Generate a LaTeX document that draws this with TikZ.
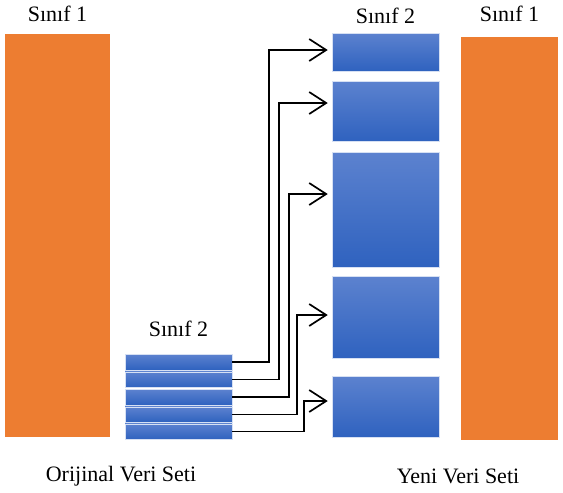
\documentclass[tikz,border=0pt]{standalone}
\usepackage{fontspec}
\setmainfont{Liberation Serif}
\usetikzlibrary{arrows.meta,calc}
\definecolor{orng}{HTML}{ED7D31}
\definecolor{bluetop}{HTML}{5C82CF}
\definecolor{bluebot}{HTML}{2F62BF}
\begin{document}
\begin{tikzpicture}[x=1pt,y=-1pt,
  orangebar/.style={rectangle,fill=orng,draw=none,inner sep=0pt},
  bluebar/.style={rectangle,top color=bluetop,bottom color=bluebot,draw=white!75!bluetop,line width=0.5pt,inner sep=0pt,minimum width=107pt},
  lbl/.style={inner sep=0pt,font=\fontsize{22}{26}\selectfont},
  arr/.style={draw=black,line width=1.7pt,-{Straight Barb[length=17pt,width=22pt,line width=1.7pt]}}]
\useasboundingbox (0,0) rectangle (563,493);
% orange bars
\node[orangebar,minimum width=105pt,minimum height=403pt] (o1) at (57.5,235.5) {};
\node[orangebar,minimum width=97pt,minimum height=403pt] (o2) at (509.5,238.5) {};
% new blue blocks
\node[bluebar,minimum height=38pt] (b1) at (385.5,52) {};
\node[bluebar,minimum height=60pt] (b2) at (385.5,111) {};
\node[bluebar,minimum height=115pt] (b3) at (385.5,209.5) {};
\node[bluebar,minimum height=82pt] (b4) at (385.5,317) {};
\node[bluebar,minimum height=61pt] (b5) at (385.5,406.5) {};
% small bars
\node[bluebar,minimum height=15.5pt] (s1) at (178.5,362) {};
\node[bluebar,minimum height=15.5pt] (s2) at (178.5,379.5) {};
\node[bluebar,minimum height=15.5pt] (s3) at (178.5,397) {};
\node[bluebar,minimum height=15.5pt] (s4) at (178.5,414.5) {};
\node[bluebar,minimum height=15.5pt] (s5) at (178.5,431.5) {};
% labels
\node[lbl] (l1) at (57.5,14) {Sınıf 1};
\node[lbl] (l2) at (385.5,16) {Sınıf 2};
\node[lbl] (l3) at (509.5,14) {Sınıf 1};
\node[lbl] (l4) at (178.5,329) {Sınıf 2};
\node[lbl] (l5) at (121,476) {Orijinal Veri Seti};
\node[lbl] (l6) at (458,476) {Yeni Veri Seti};
% arrows
\draw[arr] (s1.east) -- ++(37,0) |- ([yshift=2pt,xshift=-4pt]b1.west);
\draw[arr] (s2.east) -- ++(47,0) |- ([yshift=8pt,xshift=-4pt]b2.west);
\draw[arr] (s3.east) -- ++(57,0) |- ([yshift=15.5pt,xshift=-4pt]b3.west);
\draw[arr] (s4.east) -- ++(65,0) |- ([yshift=2pt,xshift=-4pt]b4.west);
\draw[arr] (s5.east) -- ++(72,0) |- ([yshift=5.5pt,xshift=-4pt]b5.west);
\end{tikzpicture}
\end{document}
